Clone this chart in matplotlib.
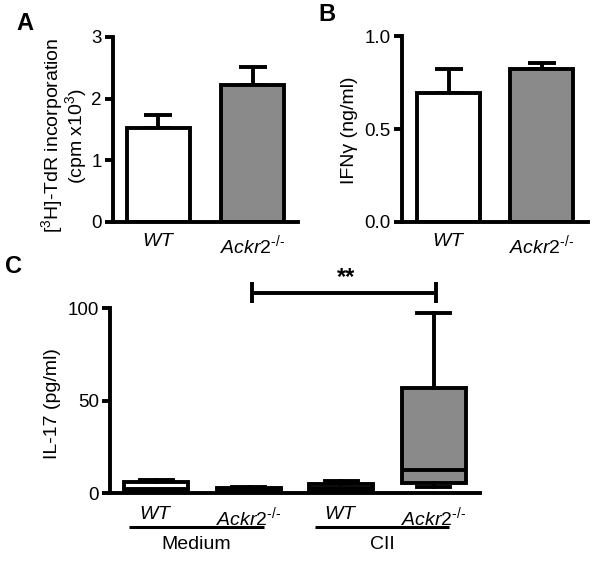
import matplotlib
matplotlib.use("Agg")
import matplotlib.pyplot as plt
from matplotlib.transforms import blended_transform_factory

plt.rcParams['font.family'] = ['Liberation Sans', 'DejaVu Sans']
plt.rcParams['mathtext.fontset'] = 'custom'
plt.rcParams['mathtext.rm'] = 'Liberation Sans'
plt.rcParams['mathtext.it'] = 'Liberation Sans:italic'
plt.rcParams['mathtext.bf'] = 'Liberation Sans:bold'

# ---------------- data ----------------
genotypes = ['WT', 'Ackr2']
prolif_mean = [1.52, 2.22]
prolif_sem = [0.22, 0.30]
ifng_mean = [0.695, 0.822]
ifng_sem = [0.13, 0.032]

c_groups = ['Medium', 'CII']
c_labels = ['WT', 'Ackr2', 'WT', 'Ackr2']
il17_whislo = [0.5, 0.3, 0.5, 3.2]
il17_q1 = [1.0, 0.6, 1.0, 5.4]
il17_med = [2.2, 1.2, 2.5, 12.4]
il17_q3 = [5.8, 2.7, 4.9, 56.8]
il17_whishi = [7.0, 3.0, 6.7, 97.5]
sig_text = '**'

# ---------------- style ----------------
LW = 2.8
GRAY = '#8a8a8a'
bar_colors = ['white', GRAY]
box_colors = ['white', GRAY, 'white', GRAY]
TICK_FS = 13.5
XT_FS = 14
LAB_FS = 14


def xlab(name):
    if name == 'WT':
        return r'$\mathit{WT}$'
    return r'$\mathit{' + name + r'}^{\mathit{‐/‐}}$'


def style_axes(ax):
    for s in ['top', 'right']:
        ax.spines[s].set_visible(False)
    for s in ['left', 'bottom']:
        ax.spines[s].set_linewidth(LW)
        ax.spines[s].set_capstyle('projecting')
    ax.tick_params(axis='y', width=LW, length=6, pad=2, labelsize=TICK_FS)
    ax.tick_params(axis='x', length=0, pad=8, labelsize=XT_FS)


fig = plt.figure(figsize=(6.01, 5.63), dpi=100)

# ---------------- panel A ----------------
axA = fig.add_axes([0.188, 0.6057, 0.308, 0.3286])
xs = [0, 1]
axA.errorbar(xs, prolif_mean, yerr=[[0, 0], prolif_sem], fmt='none',
             ecolor='black', elinewidth=LW, capsize=10.4, capthick=LW, zorder=1)
axA.bar(xs, prolif_mean, width=0.67, color=bar_colors, edgecolor='black',
        linewidth=LW, zorder=2)
axA.set_xlim(-0.48, 1.48)
axA.set_ylim(0, 3)
axA.set_yticks([0, 1, 2, 3])
axA.set_xticks(xs)
axA.set_xticklabels([xlab(g) for g in genotypes])
style_axes(axA)
fig.text(0.107, 0.759, '[$^{3}$H]-TdR incorporation\n(cpm x10$^{3}$)',
         rotation=90, ha='center', va='center', fontsize=14,
         linespacing=0.9)

# ---------------- panel B ----------------
axB = fig.add_axes([0.669, 0.6057, 0.3095, 0.330])
axB.errorbar(xs, ifng_mean, yerr=[[0, 0], ifng_sem], fmt='none',
             ecolor='black', elinewidth=LW, capsize=10.4, capthick=LW, zorder=1)
axB.bar(xs, ifng_mean, width=0.67, color=bar_colors, edgecolor='black',
        linewidth=LW, zorder=2)
axB.set_xlim(-0.5, 1.5)
axB.set_ylim(0, 1.0)
axB.set_yticks([0.0, 0.5, 1.0])
axB.set_yticklabels(['0.0', '0.5', '1.0'])
axB.set_xticks(xs)
axB.set_xticklabels([xlab(g) for g in genotypes])
style_axes(axB)
fig.text(0.582, 0.769, 'IFNγ (ng/ml)', rotation=90, ha='center',
         va='center', fontsize=LAB_FS)

# ---------------- panel C ----------------
axC = fig.add_axes([0.183, 0.1243, 0.6156, 0.3286])
stats = []
for i in range(4):
    stats.append(dict(whislo=il17_whislo[i], q1=il17_q1[i], med=il17_med[i],
                      q3=il17_q3[i], whishi=il17_whishi[i], fliers=[]))
pos = [1, 2, 3, 4]
bp = axC.bxp(stats, positions=pos, widths=0.69, capwidths=0.36,
             patch_artist=True, showfliers=False,
             boxprops=dict(linewidth=LW, edgecolor='black'),
             whiskerprops=dict(linewidth=LW, color='black'),
             capprops=dict(linewidth=LW, color='black'),
             medianprops=dict(linewidth=LW, color='black'))
for patch, col in zip(bp['boxes'], box_colors):
    patch.set_facecolor(col)
axC.set_xlim(0.5, 4.5)
axC.set_ylim(0, 100)
axC.set_yticks([0, 50, 100])
axC.set_xticks(pos)
axC.set_xticklabels([xlab(g) for g in c_labels])
style_axes(axC)
axC.tick_params(axis='x', pad=9)
fig.text(0.088, 0.284, 'IL-17 (pg/ml)', rotation=90, ha='center',
         va='center', fontsize=LAB_FS)

# significance bracket between Medium Ackr2 and CII Ackr2
axC.plot([pos[1] + 0.04, pos[3] + 0.03], [108, 108], color='black',
         linewidth=LW, clip_on=False, solid_capstyle='butt')
for xx in [pos[1] + 0.04, pos[3] + 0.03]:
    axC.plot([xx, xx], [102.5, 114], color='black', linewidth=LW,
             clip_on=False, solid_capstyle='butt')
axC.text(3.05, 110.5, sig_text, ha='center', va='bottom', fontsize=17,
         fontweight='bold')

# group lines
tr = blended_transform_factory(axC.transData, axC.transAxes)
group_spans = [(0.71, 2.16), (2.72, 4.17)]
for (x0, x1), name in zip(group_spans, c_groups):
    axC.plot([x0, x1], [-0.184, -0.184], color='black', linewidth=2.2,
             transform=tr, clip_on=False, solid_capstyle='butt')
    axC.text((x0 + x1) / 2, -0.28, name, transform=tr, ha='center',
             va='center', fontsize=14)

# panel letters
fig.text(0.042, 0.959, 'A', fontsize=17, fontweight='bold', ha='center', va='center')
fig.text(0.544, 0.974, 'B', fontsize=17, fontweight='bold', ha='center', va='center')
fig.text(0.022, 0.526, 'C', fontsize=17, fontweight='bold', ha='center', va='center')

fig.savefig('out.png', dpi=100)
